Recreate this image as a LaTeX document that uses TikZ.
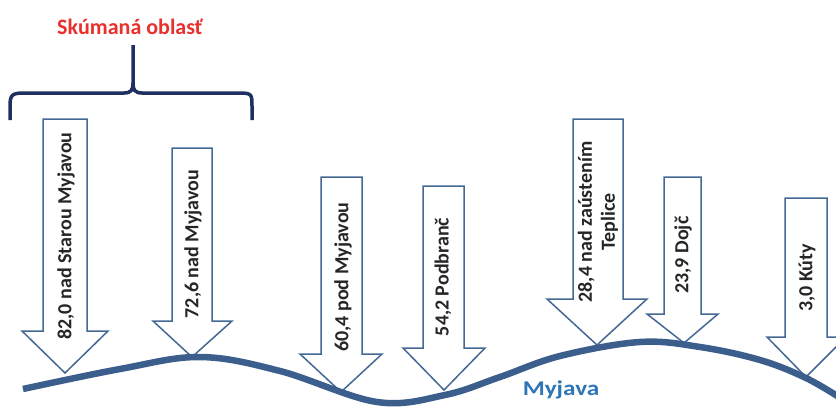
\documentclass[tikz,border=0pt]{standalone}
\usepackage{fontspec}
\setmainfont{Carlito}
\definecolor{arrowblue}{RGB}{68,104,148}
\definecolor{riverblue}{RGB}{59,94,140}
\definecolor{labelblue}{RGB}{46,117,182}
\definecolor{bracenavy}{RGB}{31,48,96}
\definecolor{areared}{RGB}{232,48,44}
\tikzset{
    flowarrow/.style={draw=arrowblue, fill=white, line width=1.5pt, line join=miter},
    station/.style={rotate=90, font=\bfseries\fontsize{20}{23}\selectfont, text=black!85, align=center, inner sep=0pt},
    river/.style={draw=riverblue, line width=6.5pt},
    bracket/.style={draw=bracenavy, line width=3.5pt}
}

\begin{document}
\begin{tikzpicture}[x=1pt, y=-1pt]
  \useasboundingbox (0,0) rectangle (836,407);
  % sipky (stanice)
  \draw[flowarrow] (43,119) -- (87,119) -- (87,331) -- (108,331) -- (65,373) -- (22,331) -- (43,331) -- cycle;
  \draw[flowarrow] (172,148) -- (212,148) -- (212,321) -- (232,321) -- (192,357) -- (153,321) -- (172,321) -- cycle;
  \draw[flowarrow] (321,177) -- (362,177) -- (362,354) -- (382,354) -- (341,392) -- (300,354) -- (321,354) -- cycle;
  \draw[flowarrow] (423,186) -- (464,186) -- (464,348) -- (485,348) -- (444,390) -- (403,348) -- (423,348) -- cycle;
  \draw[flowarrow] (573,119) -- (623,119) -- (623,299) -- (647,299) -- (597,345) -- (547,299) -- (573,299) -- cycle;
  \draw[flowarrow] (664,177) -- (701,177) -- (701,314) -- (718,314) -- (684,343) -- (647,314) -- (664,314) -- cycle;
  \draw[flowarrow] (785,198) -- (827,198) -- (827,337) -- (846,337) -- (806,377) -- (767,337) -- (785,337) -- cycle;
  % rieka
  \draw[river] plot[smooth, tension=0.6] coordinates {(23,389) (120,369) (200,357) (280,371) (377,402) (445,395) (500,377) (560,356) (640,342) (700,347) (760,360) (806,378) (842,399)};
  \node[font=\bfseries\fontsize{21}{24}\selectfont, text=labelblue, xscale=1.2] (myjava) at (561,390) {Myjava};
  % texty
  \node[station] (s820) at (66,236) {82,0 nad Starou Myjavou};
  \node[station] (s726) at (193,244) {72,6 nad Myjavou};
  \node[station] (s604) at (343,277) {60,4 pod Myjavou};
  \node[station] (s542) at (443,277) {54,2 Podbranč};
  \node[station] (s284) at (598,222) {28,4 nad zaústením\\Teplice};
  \node[station] (s239) at (683,255) {23,9 Dojč};
  \node[station] (s030) at (807,278) {3,0 Kúty};
  % zatvorka
  \draw[bracket] (10,120) -- (10,106) .. controls (10,95) and (12,93) .. (24,93) -- (124,93) .. controls (131,93) and (133,90) .. (133,83) -- (133,45);
  \draw[bracket] (133,83) .. controls (133,90) and (135,93) .. (142,93) -- (240,93) .. controls (252,93) and (252,95) .. (252,106) -- (252,120);
  \node[font=\bfseries\fontsize{22}{26}\selectfont, text=areared] (oblast) at (130,27) {Skúmaná oblasť};
\end{tikzpicture}
\end{document}
